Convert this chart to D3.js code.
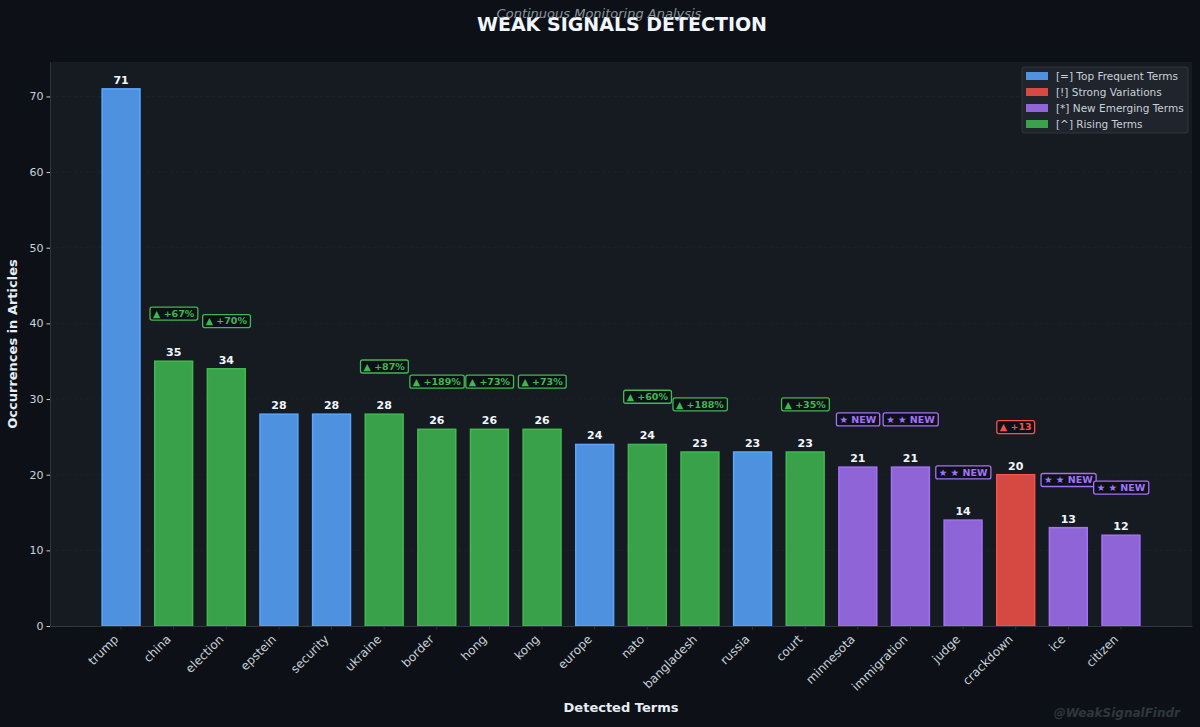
<!DOCTYPE html>
<html lang="en">
<head>
<meta charset="UTF-8">
<title>Weak Signals Detection</title>
<script src="https://d3js.org/d3.v7.min.js"></script>
<style>
    body { margin: 0; background: #0d1117; }
    svg { display: block; font-family: "DejaVu Sans", sans-serif; }
</style>
</head>
<body>
<script>
    // data
    const terms = ["trump", "china", "election", "epstein", "security", "ukraine", "border", "hong", "kong", "europe",
        "nato", "bangladesh", "russia", "court", "minnesota", "immigration", "judge", "crackdown", "ice", "citizen"];
    const counts = [71, 35, 34, 28, 28, 28, 26, 26, 26, 24, 24, 23, 23, 23, 21, 21, 14, 20, 13, 12];
    const kinds = ["top", "rising", "rising", "top", "top", "rising", "rising", "rising", "rising", "top",
        "rising", "rising", "top", "rising", "new", "new", "new", "strong", "new", "new"];
    const badges = ["", "▲ +67%", "▲ +70%", "", "", "▲ +87%", "▲ +189%", "▲ +73%", "▲ +73%", "",
        "▲ +60%", "▲ +188%", "", "▲ +35%", "★ NEW", "★ ★ NEW", "★ ★ NEW", "▲ +13", "★ ★ NEW", "★ ★ NEW"];
    const yTicks = [0, 10, 20, 30, 40, 50, 60, 70];

    const legendItems = [
        { kind: "top", label: "[=] Top Frequent Terms" },
        { kind: "strong", label: "[!] Strong Variations" },
        { kind: "new", label: "[*] New Emerging Terms" },
        { kind: "rising", label: "[^] Rising Terms" }
    ];
    const colors = { top: "#58a6ff", strong: "#f85149", new: "#a371f7", rising: "#3fb950" };

    const W = 1200, H = 727;
    const plotL = 50, plotR = 1192, plotT = 62, plotB = 626;

    const svg = d3.select("body").append("svg")
        .attr("width", W).attr("height", H);

    svg.append("rect").attr("width", W).attr("height", H).attr("fill", "#0d1117");
    svg.append("rect")
        .attr("x", plotL).attr("y", plotT)
        .attr("width", plotR - plotL).attr("height", plotB - plotT)
        .attr("fill", "#161b22");

    const x = d3.scaleBand()
        .domain(terms)
        .range([plotL, plotR])
        .paddingInner(0.28)
        .paddingOuter(0.99);

    const y = d3.scaleLinear()
        .domain([0, d3.max(counts) * 1.05])
        .range([plotB, plotT]);

    // faint grid
    svg.append("g")
        .selectAll("line")
        .data(yTicks)
        .join("line")
        .attr("x1", plotL).attr("x2", plotR)
        .attr("y1", d => y(d)).attr("y2", d => y(d))
        .attr("stroke", "#30363d")
        .attr("stroke-opacity", 0.22)
        .attr("stroke-dasharray", "3,3");

    const rows = terms.map((t, i) => ({ term: t, value: counts[i], kind: kinds[i], badge: badges[i] }));

    // bars
    svg.append("g")
        .selectAll("rect")
        .data(rows)
        .join("rect")
        .attr("x", d => x(d.term))
        .attr("y", d => y(d.value))
        .attr("width", x.bandwidth())
        .attr("height", d => y(0) - y(d.value))
        .attr("fill", d => colors[d.kind])
        .attr("fill-opacity", 0.85)
        .attr("stroke", d => colors[d.kind])
        .attr("stroke-width", 1.5);

    // value labels
    svg.append("g")
        .selectAll("text")
        .data(rows)
        .join("text")
        .attr("x", d => x(d.term) + x.bandwidth() / 2)
        .attr("y", d => y(d.value) - 5)
        .attr("text-anchor", "middle")
        .attr("fill", "#f0f6fc")
        .attr("font-size", 11)
        .attr("font-weight", "bold")
        .text(d => d.value);

    // badges
    const badge = svg.append("g")
        .selectAll("g")
        .data(rows.filter(d => d.badge))
        .join("g")
        .attr("transform", d => `translate(${x(d.term) + x.bandwidth() / 2},${y(d.value + 6.3)})`);

    badge.append("text")
        .attr("text-anchor", "middle")
        .attr("dy", "0.35em")
        .attr("fill", d => colors[d.kind])
        .attr("font-size", 9.5)
        .attr("font-weight", "bold")
        .text(d => d.badge);

    badge.each(function (d) {
        const g = d3.select(this);
        const b = g.select("text").node().getBBox();
        g.insert("rect", "text")
            .attr("x", b.x - 3).attr("y", -6.5)
            .attr("width", b.width + 6).attr("height", 13)
            .attr("rx", 2)
            .attr("fill", "#0d1117")
            .attr("stroke", colors[d.kind])
            .attr("stroke-width", 1.3);
    });

    // axes
    const xAxis = svg.append("g")
        .attr("transform", `translate(0,${plotB})`)
        .call(d3.axisBottom(x).tickSize(3.5).tickSizeOuter(0));
    xAxis.select(".domain").attr("stroke", "#30363d");
    xAxis.selectAll(".tick line").attr("stroke", "#30363d");
    xAxis.selectAll(".tick text")
        .attr("fill", "#c9d1d9")
        .attr("font-size", 12)
        .attr("font-family", "DejaVu Sans, sans-serif")
        .attr("text-anchor", "end")
        .attr("x", 0).attr("y", 0).attr("dy", 0)
        .attr("transform", "translate(-2,14) rotate(-45)");

    const yAxis = svg.append("g")
        .attr("transform", `translate(${plotL},0)`)
        .call(d3.axisLeft(y).tickValues(yTicks).tickSize(3.5).tickSizeOuter(0));
    yAxis.select(".domain").attr("stroke", "#30363d");
    yAxis.selectAll(".tick line").attr("stroke", "#c9d1d9");
    yAxis.selectAll(".tick text")
        .attr("fill", "#c9d1d9")
        .attr("font-size", 11)
        .attr("font-family", "DejaVu Sans, sans-serif");

    // titles
    svg.append("text")
        .attr("x", 622).attr("y", 31)
        .attr("text-anchor", "middle")
        .attr("fill", "#f0f6fc")
        .attr("font-size", 19)
        .attr("font-weight", "bold")
        .text("WEAK SIGNALS DETECTION");

    svg.append("text")
        .attr("x", 599).attr("y", 18)
        .attr("text-anchor", "middle")
        .attr("fill", "#8b949e")
        .attr("font-size", 13)
        .attr("font-style", "italic")
        .text("Continuous Monitoring Analysis");

    svg.append("text")
        .attr("x", 621).attr("y", 712)
        .attr("text-anchor", "middle")
        .attr("fill", "#e6edf3")
        .attr("font-size", 13)
        .attr("font-weight", "bold")
        .text("Detected Terms");

    svg.append("text")
        .attr("transform", "translate(17,344) rotate(-90)")
        .attr("text-anchor", "middle")
        .attr("fill", "#e6edf3")
        .attr("font-size", 13)
        .attr("font-weight", "bold")
        .text("Occurrences in Articles");

    svg.append("text")
        .attr("x", 1180).attr("y", 717)
        .attr("text-anchor", "end")
        .attr("fill", "#30363d")
        .attr("font-size", 12)
        .attr("font-weight", "bold")
        .attr("font-style", "italic")
        .text("@WeakSignalFindr");

    // legend
    const legend = svg.append("g").attr("transform", "translate(1022,67)");
    legend.append("rect")
        .attr("width", 166).attr("height", 66)
        .attr("rx", 2)
        .attr("fill", "#21262d")
        .attr("fill-opacity", 0.9)
        .attr("stroke", "#30363d");
    const li = legend.selectAll("g.item")
        .data(legendItems)
        .join("g")
        .attr("class", "item")
        .attr("transform", (d, i) => `translate(0,${9 + i * 16})`);
    li.append("rect")
        .attr("x", 4).attr("y", -4)
        .attr("width", 22).attr("height", 8)
        .attr("fill", d => colors[d.kind])
        .attr("fill-opacity", 0.85);
    li.append("text")
        .attr("x", 34).attr("dy", "0.35em")
        .attr("fill", "#c9d1d9")
        .attr("font-size", 10.5)
        .text(d => d.label);
</script>
</body>
</html>
